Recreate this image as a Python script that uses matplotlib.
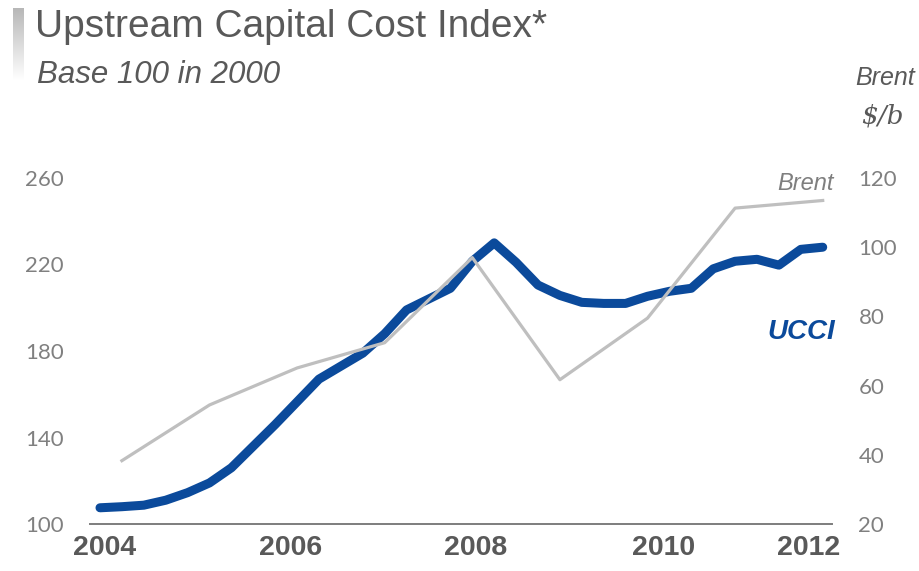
import numpy as np
import matplotlib
matplotlib.use("Agg")
import matplotlib.pyplot as plt

# ==========================
# DATA
# ==========================
# UCCI, quarterly, 2004 Q1 .. 2012 Q2 (base 100 in 2000)
ucci = [107.5, 108, 108.7, 111, 114.5, 119, 126, 136,
        146, 156.5, 167, 173, 179, 188, 199, 204,
        209, 221.5, 230, 221, 210.5, 205.7, 202.5, 202,
        202, 205.3, 207.6, 209, 218, 221.5, 222.4, 219.7,
        227, 228]
ucci_x = 2004.25 + 0.25 * np.arange(len(ucci))

# Brent, annual average $/b
brent_years = [2004, 2005, 2006, 2007, 2008, 2009, 2010, 2011, 2012]
brent = [38.3, 54.4, 65.1, 72.4, 97.0, 61.7, 79.5, 111.3, 113.5]
brent_x = np.array(brent_years) + 0.5

left_ticks = [100, 140, 180, 220, 260]
right_ticks = [20, 40, 60, 80, 100, 120]
year_labels = ["2004", "2006", "2008", "2010", "2012"]
year_pos = [2004.3, 2006.42, 2008.54, 2010.68, 2012.34]

BLUE = "#0b4a9b"
GREY = "#bfbfbf"
TEXT = "#595959"
TICK = "#808080"

# ==========================
# FIGURE
# ==========================
fig = plt.figure(figsize=(9.2, 5.71), dpi=100)
ax = fig.add_axes([90 / 920, 47 / 571, 742 / 920, 346 / 571])
ax2 = ax.twinx()

ax.plot(ucci_x, ucci, color=BLUE, lw=6.5, solid_capstyle="round",
        solid_joinstyle="round", zorder=2)
ax2.plot(brent_x, brent, color=GREY, lw=2.3, zorder=3)

ax.set_xlim(2004.136, 2012.606)
ax.set_ylim(100, 260)
ax2.set_ylim(20, 120)

ax.set_yticks(left_ticks)
ax.set_yticklabels([str(v) for v in left_ticks], fontsize=16,
                   color=TICK, family="Lato")
ax2.set_yticks(right_ticks)
ax2.set_yticklabels([str(v) for v in right_ticks], fontsize=16,
                    color=TICK, family="Lato")
ax.set_xticks(year_pos)
ax.set_xticklabels(year_labels, fontsize=20.5, fontweight="bold",
                   color=TEXT, family="Liberation Sans")

ax.tick_params(axis="y", length=0, pad=19)
ax2.tick_params(axis="y", length=0, pad=19)
ax.tick_params(axis="x", length=0, pad=8)

for a in (ax, ax2):
    for s in ("top", "left", "right"):
        a.spines[s].set_visible(False)
    a.spines["bottom"].set_color("#7f7f7f")
    a.spines["bottom"].set_linewidth(1.3)

# series labels
ax2.text(2012.30, 118.5, "Brent", fontsize=17, style="italic",
         color="#7f7f7f", ha="center", va="center", family="Liberation Sans")
ax.text(2012.26, 188.6, "UCCI", fontsize=20, style="italic",
        fontweight="bold", color=BLUE, ha="center", va="center",
        family="Liberation Sans")

# right axis header
fig.text(885 / 920, 1 - 78 / 571, "Brent", fontsize=18, style="italic",
         color=TEXT, ha="center", va="center", family="Liberation Sans")
fig.text(882 / 920, 1 - 116 / 571, "$/b", fontsize=19, style="italic",
         color=TEXT, ha="center", va="center", family="DejaVu Serif")

# title block
fig.text(35 / 920, 1 - 27 / 571, "Upstream Capital Cost Index*",
         fontsize=28, color=TEXT, ha="left", va="center",
         family="Liberation Sans")
fig.text(37 / 920, 1 - 75 / 571, "Base 100 in 2000", fontsize=22.5,
         style="italic", color=TEXT, ha="left", va="center",
         family="Liberation Sans")

# grey accent bar
bar = fig.add_axes([13 / 920, 1 - 80 / 571, 11 / 920, 72 / 571])
shade = np.linspace(0.72, 1.0, 100)
grad = np.dstack([shade, shade, shade]).reshape(-1, 1, 3)
bar.imshow(grad, aspect="auto")
bar.axis("off")

fig.savefig("out.png", dpi=100)
